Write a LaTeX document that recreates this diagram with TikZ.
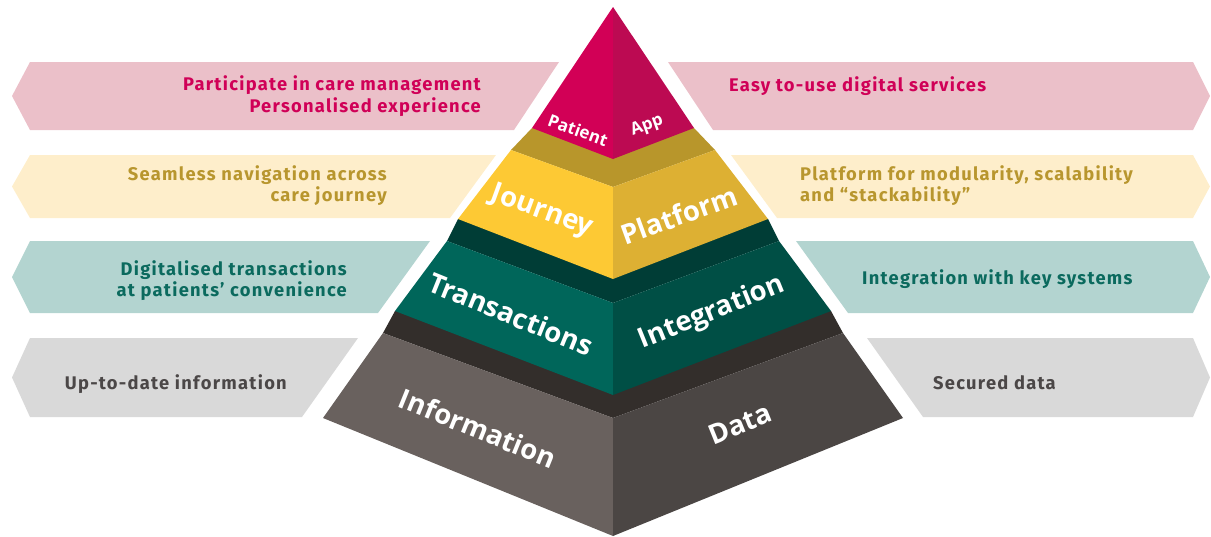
\documentclass[tikz,border=0pt]{standalone}
\usepackage{fontspec}
\newfontfamily\bannerfont[LetterSpace=7]{Fira Sans}
\newfontfamily\pyrfont{Open Sans}
\definecolor{tipL}{HTML}{D20056}
\definecolor{tipR}{HTML}{BC0A52}
\definecolor{jouL}{HTML}{FDC934}
\definecolor{jouR}{HTML}{DDB033}
\definecolor{jouT}{HTML}{B8962B}
\definecolor{trnL}{HTML}{00665A}
\definecolor{trnR}{HTML}{004F45}
\definecolor{trnT}{HTML}{003D36}
\definecolor{infL}{HTML}{69615E}
\definecolor{infR}{HTML}{4B4644}
\definecolor{infT}{HTML}{332E2B}
\definecolor{pinkB}{HTML}{EBC0C9}
\definecolor{pinkT}{HTML}{D00057}
\definecolor{yelB}{HTML}{FEEECB}
\definecolor{yelT}{HTML}{B8962E}
\definecolor{tealB}{HTML}{B3D4D0}
\definecolor{tealT}{HTML}{0B6A5E}
\definecolor{grayB}{HTML}{D9D9D9}
\definecolor{grayT}{HTML}{4B4747}
\tikzset{
  btext/.style={font=\bannerfont\bfseries\fontsize{18.3}{21}\selectfont, inner sep=0pt},
  bleft/.style={btext, anchor=base east},
  bright/.style={btext, anchor=base west},
  plabel/.style={font=\pyrfont\bfseries\fontsize{27.5}{30}\selectfont, text=white, inner sep=0pt},
  slabel/.style={font=\pyrfont\bfseries\fontsize{17}{19}\selectfont, text=white, inner sep=0pt},
}
\begin{document}
\begin{tikzpicture}[x=1pt,y=-1pt]
\useasboundingbox (0,0) rectangle (1211,536);
% ---------- banners ----------
\fill[pinkB] (30,62) -- (559,62) -- (514,130) -- (30,130) -- (12,96) -- cycle;
\fill[pinkB] (668,62) -- (1193,62) -- (1210,96) -- (1193,130) -- (713,130) -- cycle;
\fill[yelB] (30,155) -- (496,155) -- (450,218) -- (30,218) -- (12,186.5) -- cycle;
\fill[yelB] (731,155) -- (1193,155) -- (1210,186.5) -- (1193,218) -- (777,218) -- cycle;
\fill[tealB] (30,241) -- (430,241) -- (378,313) -- (30,313) -- (12,277) -- cycle;
\fill[tealB] (796,241) -- (1193,241) -- (1210,277) -- (1193,313) -- (848,313) -- cycle;
\fill[grayB] (30,338) -- (358,338) -- (302,417) -- (30,417) -- (12,377.5) -- cycle;
\fill[grayB] (867,338) -- (1193,338) -- (1210,377.5) -- (1193,417) -- (923,417) -- cycle;
% ---------- pyramid coordinates ----------
\coordinate (A) at (613,7);
\coordinate (TL) at (532,128); \coordinate (TF) at (613,159); \coordinate (TR) at (694,128);
\coordinate (JL) at (511,150); \coordinate (JF) at (613,187); \coordinate (JR) at (715,150);
\coordinate (JBL) at (458,219); \coordinate (JBF) at (613,279); \coordinate (JBR) at (768,219);
\coordinate (XL) at (447,241); \coordinate (XF) at (613,303); \coordinate (XR) at (779,241);
\coordinate (XBL) at (395,311); \coordinate (XBF) at (613,395); \coordinate (XBR) at (831,311);
\coordinate (IL) at (383,333); \coordinate (IF) at (613,418); \coordinate (IR) at (843,333);
\coordinate (IBL) at (323,418); \coordinate (IBF) at (613,536); \coordinate (IBR) at (903,418);
% information layer
\fill[infT] (IL) -- (XBL) -- (XBR) -- (IR) -- (IF) -- cycle;
\fill[infL] (IL) -- (IF) -- (IBF) -- (IBL) -- cycle;
\fill[infR] (IF) -- (IR) -- (IBR) -- (IBF) -- cycle;
% transactions layer
\fill[trnT] (XL) -- (JBL) -- (JBR) -- (XR) -- (XF) -- cycle;
\fill[trnL] (XL) -- (XF) -- (XBF) -- (XBL) -- cycle;
\fill[trnR] (XF) -- (XR) -- (XBR) -- (XBF) -- cycle;
% journey layer
\fill[jouT] (JL) -- (TL) -- (TR) -- (JR) -- (JF) -- cycle;
\fill[jouL] (JL) -- (JF) -- (JBF) -- (JBL) -- cycle;
\fill[jouR] (JF) -- (JR) -- (JBR) -- (JBF) -- cycle;
% tip
\fill[tipL] (A) -- (TF) -- (TL) -- cycle;
\fill[tipR] (A) -- (TR) -- (TF) -- cycle;
% ---------- pyramid labels ----------
\node[slabel, rotate=-20] (patient) at (578,130) {Patient};
\node[slabel, rotate=20] (app) at (647,126) {App};
\node[plabel, rotate=-20] (journey) at (542,212) {Journey};
\node[plabel, rotate=20] (platform) at (679,215) {Platform};
\node[plabel, rotate=-22] (transactions) at (511,314) {Transactions};
\node[plabel, rotate=22] (integration) at (712,313) {Integration};
\node[plabel, rotate=-22] (information) at (478,428) {Information};
\node[plabel, rotate=22] (data) at (740,424) {Data};
% ---------- banner texts ----------
\node[bleft, text=pinkT] (t1a) at (481,90) {Participate in care management};
\node[bleft, text=pinkT] (t1b) at (481,112) {Personalised experience};
\node[bright, text=pinkT] (t1c) at (729,91) {Easy to-use digital services};
\node[bleft, text=yelT] (t2a) at (387,180) {Seamless navigation across};
\node[bleft, text=yelT] (t2b) at (387,201) {care journey};
\node[bright, text=yelT] (t2c) at (800,180) {Platform for modularity, scalability};
\node[bright, text=yelT] (t2d) at (800,201) {and “stackability”};
\node[bleft, text=tealT] (t3a) at (347,275) {Digitalised transactions};
\node[bleft, text=tealT] (t3b) at (347,296) {at patients’ convenience};
\node[bright, text=tealT] (t3c) at (862,284) {Integration with key systems};
\node[bleft, text=grayT] (t4a) at (287,389) {Up-to-date information};
\node[bright, text=grayT] (t4b) at (933,389) {Secured data};
\end{tikzpicture}
\end{document}
